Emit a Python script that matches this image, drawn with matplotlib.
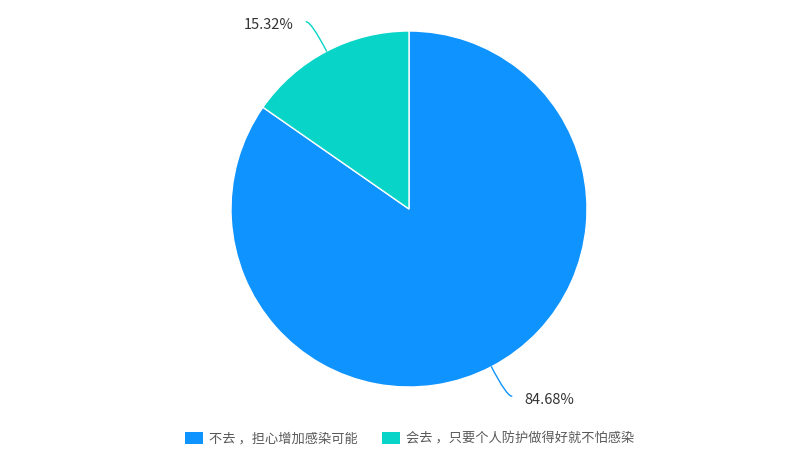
import numpy as np
import matplotlib
matplotlib.use('Agg')
import matplotlib.pyplot as plt
from matplotlib.patches import Patch

plt.rcParams['font.family'] = ['Noto Sans CJK SC', 'DejaVu Sans']

# data
categories = ['不去 ，担心增加感染可能', '会去 ，只要个人防护做得好就不怕感染']
shares = [84.68, 15.32]
colors = ['#0f93ff', '#09d4c8']

W, H = 810, 465
fig = plt.figure(figsize=(W / 100, H / 100), dpi=100)

# pie area: center (409, 209) px, radius 178 px
cx, cy, r = 409, 209, 178
ax = fig.add_axes([(cx - r) / W, (H - cy - r) / H, 2 * r / W, 2 * r / H])

wedges, _ = ax.pie(shares, colors=colors, startangle=90, counterclock=False,
                   radius=1, wedgeprops=dict(edgecolor='white', linewidth=1))
ax.set_xlim(-1, 1)
ax.set_ylim(-1, 1)
ax.set_aspect('equal')
ax.axis('off')

# leader lines and labels
for w, val, col in zip(wedges, shares, colors):
    mid = (w.theta1 + w.theta2) / 2
    a = np.deg2rad(mid)
    edge = (np.cos(a), np.sin(a))
    left = edge[0] < 0
    b = np.deg2rad(mid + 1.2)
    end = (1.2 * np.cos(b), 1.2 * np.sin(b))
    ax.annotate('', xy=edge, xytext=end,
                arrowprops=dict(arrowstyle='-', color=col, lw=1,
                                shrinkA=0, shrinkB=0,
                                connectionstyle='angle3,angleA=0,angleB=%f' % mid),
                annotation_clip=False)
    ax.annotate('%.2f%%' % val, xy=end, xytext=(-9 if left else 9, -2.5),
                textcoords='offset points', ha='right' if left else 'left',
                va='center', fontsize=10.5, color='#333333',
                annotation_clip=False)

handles = [Patch(facecolor=c, edgecolor='none') for c in colors]
fig.legend(handles, categories, loc='center', bbox_to_anchor=(0.506, 1 - 439 / H),
           ncol=2, frameon=False, fontsize=9.5, labelcolor='#595959',
           handlelength=1.35, handleheight=0.95, handletextpad=0.5,
           columnspacing=1.8)

fig.savefig('out.png', dpi=100)
